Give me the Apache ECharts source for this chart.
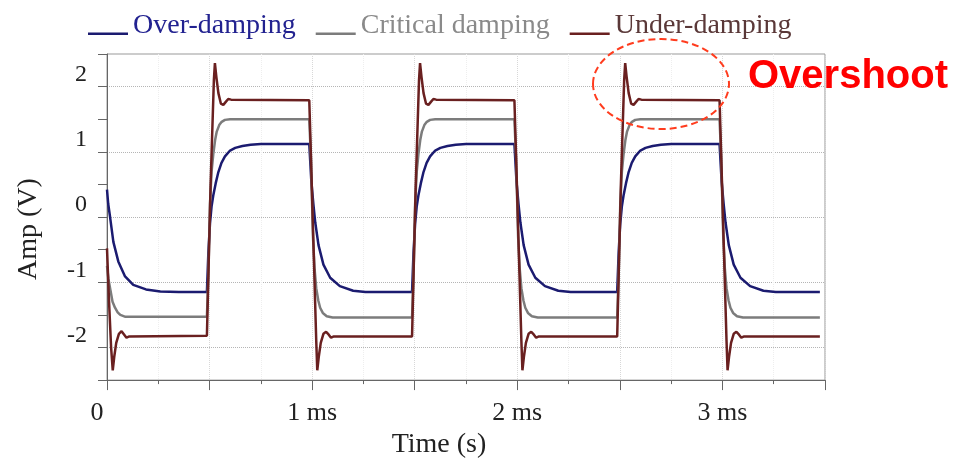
<!DOCTYPE html>
<html><head><meta charset="utf-8">
<script src="https://cdn.jsdelivr.net/npm/echarts@6/dist/echarts.min.js"></script>
<style>html,body{margin:0;padding:0;background:#fff}#c{width:959px;height:464px}</style>
</head><body><div id="c"></div>
<script>
const seriesNames = ['Over-damping', 'Critical damping', 'Under-damping'];
const xTickLabels = ['0', '1 ms', '2 ms', '3 ms'];

const overDamping = [
[0,0.42],[0.006,0.2],[0.015,0.0],[0.031,-0.38],[0.055,-0.68],[0.088,-0.91],[0.128,-1.04],[0.19,-1.11],[0.26,-1.14],[0.35,-1.15],[0.487,-1.15],
[0.494,-0.55],[0.502,-0.1],[0.51,0.17],[0.518,0.33],[0.53,0.52],[0.542,0.68],[0.558,0.83],[0.575,0.93],[0.6,1.02],[0.625,1.06],[0.66,1.09],[0.7,1.11],[0.75,1.12],[0.986,1.12],
[0.996,0.55],[1.006,0.2],[1.015,-0.08],[1.031,-0.43],[1.055,-0.73],[1.088,-0.93],[1.135,-1.06],[1.2,-1.13],[1.26,-1.15],[1.487,-1.15],
[1.494,-0.55],[1.502,-0.1],[1.51,0.17],[1.518,0.33],[1.53,0.52],[1.542,0.68],[1.558,0.83],[1.575,0.93],[1.6,1.02],[1.625,1.06],[1.66,1.09],[1.7,1.11],[1.75,1.12],[1.986,1.12],
[1.996,0.55],[2.006,0.2],[2.015,-0.08],[2.031,-0.43],[2.055,-0.73],[2.088,-0.93],[2.135,-1.06],[2.2,-1.13],[2.26,-1.15],[2.487,-1.15],
[2.494,-0.55],[2.502,-0.1],[2.51,0.17],[2.518,0.33],[2.53,0.52],[2.542,0.68],[2.558,0.83],[2.575,0.93],[2.6,1.02],[2.625,1.06],[2.66,1.09],[2.7,1.11],[2.75,1.12],[2.986,1.12],
[2.996,0.55],[3.006,0.2],[3.015,-0.08],[3.031,-0.43],[3.055,-0.73],[3.088,-0.93],[3.135,-1.06],[3.2,-1.13],[3.26,-1.15],[3.475,-1.15]
];

const criticalDamping = [
[0,-0.75],[0.007,-0.95],[0.015,-1.09],[0.027,-1.3],[0.039,-1.39],[0.052,-1.46],[0.065,-1.5],[0.09,-1.53],[0.487,-1.53],
[0.494,-0.9],[0.502,0.2],[0.51,0.7],[0.518,0.96],[0.527,1.18],[0.535,1.31],[0.547,1.41],[0.559,1.46],[0.575,1.49],[0.6,1.5],[0.986,1.5],
[0.994,0.9],[1.004,-0.3],[1.012,-0.8],[1.02,-1.09],[1.03,-1.28],[1.039,-1.39],[1.052,-1.47],[1.071,-1.52],[1.1,-1.54],[1.487,-1.54],
[1.494,-0.9],[1.502,0.2],[1.51,0.7],[1.518,0.96],[1.527,1.18],[1.535,1.31],[1.547,1.41],[1.559,1.46],[1.575,1.49],[1.6,1.5],[1.986,1.5],
[1.994,0.9],[2.004,-0.3],[2.012,-0.8],[2.02,-1.09],[2.03,-1.28],[2.039,-1.39],[2.052,-1.47],[2.071,-1.52],[2.1,-1.54],[2.487,-1.54],
[2.494,-0.9],[2.502,0.2],[2.51,0.7],[2.518,0.96],[2.527,1.18],[2.535,1.31],[2.547,1.41],[2.559,1.46],[2.575,1.49],[2.6,1.5],[2.986,1.5],
[2.994,0.9],[3.004,-0.3],[3.012,-0.8],[3.02,-1.09],[3.03,-1.28],[3.039,-1.39],[3.052,-1.47],[3.071,-1.52],[3.1,-1.54],[3.475,-1.54]
];

const underDamping = [
[0,-0.48],[0.01,-1.3],[0.02,-2.0],[0.028,-2.35],[0.035,-2.15],[0.045,-1.93],[0.058,-1.79],[0.071,-1.75],[0.083,-1.8],[0.095,-1.85],[0.109,-1.83],[0.487,-1.82],
[0.495,-0.8],[0.505,0.5],[0.515,1.5],[0.521,2.1],[0.526,2.36],[0.533,2.15],[0.543,1.9],[0.555,1.74],[0.567,1.72],[0.58,1.77],[0.591,1.81],[0.605,1.8],[0.986,1.79],
[0.994,0.95],[1.004,-0.15],[1.014,-1.25],[1.02,-1.9],[1.025,-2.35],[1.032,-2.15],[1.042,-1.93],[1.055,-1.79],[1.068,-1.76],[1.08,-1.8],[1.092,-1.85],[1.106,-1.83],[1.487,-1.83],
[1.495,-0.8],[1.505,0.5],[1.515,1.5],[1.521,2.1],[1.526,2.36],[1.533,2.15],[1.543,1.9],[1.555,1.74],[1.567,1.72],[1.58,1.77],[1.591,1.81],[1.605,1.8],[1.986,1.79],
[1.994,0.95],[2.004,-0.15],[2.014,-1.25],[2.02,-1.9],[2.025,-2.35],[2.032,-2.15],[2.042,-1.93],[2.055,-1.79],[2.068,-1.76],[2.08,-1.8],[2.092,-1.85],[2.106,-1.83],[2.487,-1.83],
[2.495,-0.8],[2.505,0.5],[2.515,1.5],[2.521,2.1],[2.526,2.36],[2.533,2.15],[2.543,1.9],[2.555,1.74],[2.567,1.72],[2.58,1.77],[2.591,1.81],[2.605,1.8],[2.986,1.79],
[2.994,0.95],[3.004,-0.15],[3.014,-1.25],[3.02,-1.9],[3.025,-2.35],[3.032,-2.15],[3.042,-1.93],[3.055,-1.79],[3.068,-1.76],[3.08,-1.8],[3.092,-1.85],[3.106,-1.83],[3.475,-1.83]
];

const lineColors = ['#1b1b70', '#7c7c7c', '#6a2020'];
const legendTextColors = ['#222290', '#8a8a8a', '#5a3838'];
const serif = '"Liberation Serif", "Times New Roman", "DejaVu Serif", serif';

const chart = echarts.init(document.getElementById('c'));
const dataSets = [overDamping, criticalDamping, underDamping];

chart.setOption({
  animation: false,
  backgroundColor: '#fff',
  legend: {
    top: 7, left: 83, itemGap: 20, itemWidth: 40, itemHeight: 28,
    symbolKeepAspect: false, selectedMode: false,
    icon: 'path://M0,0L40,0L40,0.01L0,0.01Z M0,20.6L40,20.6L40,23L0,23Z M0,27.99L40,27.99L40,28L0,28Z',
    textStyle: { fontFamily: serif, fontSize: 28, lineHeight: 28 },
    data: seriesNames.map((n, i) => ({ name: n, textStyle: { color: legendTextColors[i] } }))
  },
  grid: { left: 107, right: 134, top: 54, bottom: 81, show: true, borderColor: '#999', borderWidth: 1 },
  xAxis: {
    type: 'value', min: 0, max: 3.5, interval: 0.5,
    axisLine: { onZero: false, lineStyle: { color: '#666', width: 1 } },
    axisTick: { length: 10, lineStyle: { color: '#666' } },
    minorTick: { show: true, splitNumber: 2, length: 4, lineStyle: { color: '#666' } },
    splitLine: { show: true, lineStyle: { type: 'dotted', color: '#d8d8d8' } },
    minorSplitLine: { show: true, lineStyle: { type: 'dotted', color: '#eeeeee' } },
    axisLabel: {
      margin: 20, fontFamily: serif, fontSize: 26, color: '#222',
      formatter: function (v) {
        if (Math.abs(v) < 1e-9) return '{z|' + xTickLabels[0] + '}';
        if (Number.isInteger(v) && v < xTickLabels.length) return xTickLabels[v];
        return '';
      },
      rich: { z: { fontFamily: serif, fontSize: 26, color: '#222', padding: [0, 20, 0, 0] } }
    },
    name: 'Time (s)', nameLocation: 'middle', nameGap: 49,
    nameTextStyle: { fontFamily: serif, fontSize: 28, color: '#222', padding: [0, 54, 0, 0] }
  },
  yAxis: {
    type: 'value', min: -2.5, max: 2.5, interval: 0.5,
    axisLine: { show: true, onZero: false, lineStyle: { color: '#666', width: 1 } },
    axisTick: { show: true, length: 9, lineStyle: { color: '#666' } },
    splitLine: { show: true, lineStyle: { type: 'dotted', color: ['rgba(0,0,0,0)', '#b5b5b5'] } },
    axisLabel: {
      margin: 20, fontFamily: serif, fontSize: 24, color: '#222',
      verticalAlign: 'bottom', lineHeight: 24,
      formatter: v => (Number.isInteger(v) ? String(v) : '')
    },
    name: 'Amp (V)', nameLocation: 'middle', nameGap: 64,
    nameTextStyle: { fontFamily: serif, fontSize: 28, color: '#222', padding: [0, 24, 0, 0] }
  },
  series: seriesNames.map((n, i) => ({
    name: n, type: 'line', data: dataSets[i], symbol: 'none', showSymbol: false,
    color: lineColors[i],
    lineStyle: { color: lineColors[i], width: 2.5 },
    z: 2 + i
  })),
  graphic: [
    { type: 'ellipse', z: 100, shape: { cx: 661, cy: 84, rx: 68, ry: 45 },
      style: { fill: 'none', stroke: '#ff3c1e', lineWidth: 2, lineDash: [7, 4] } },
    { type: 'text', z: 100, x: 748, y: 77,
      style: { text: 'Overshoot', fill: '#ff0000', fontSize: 40, fontWeight: 'bold',
        fontFamily: '"Liberation Sans", Arial, sans-serif', verticalAlign: 'middle', align: 'left' } }
  ]
});
</script></body></html>
